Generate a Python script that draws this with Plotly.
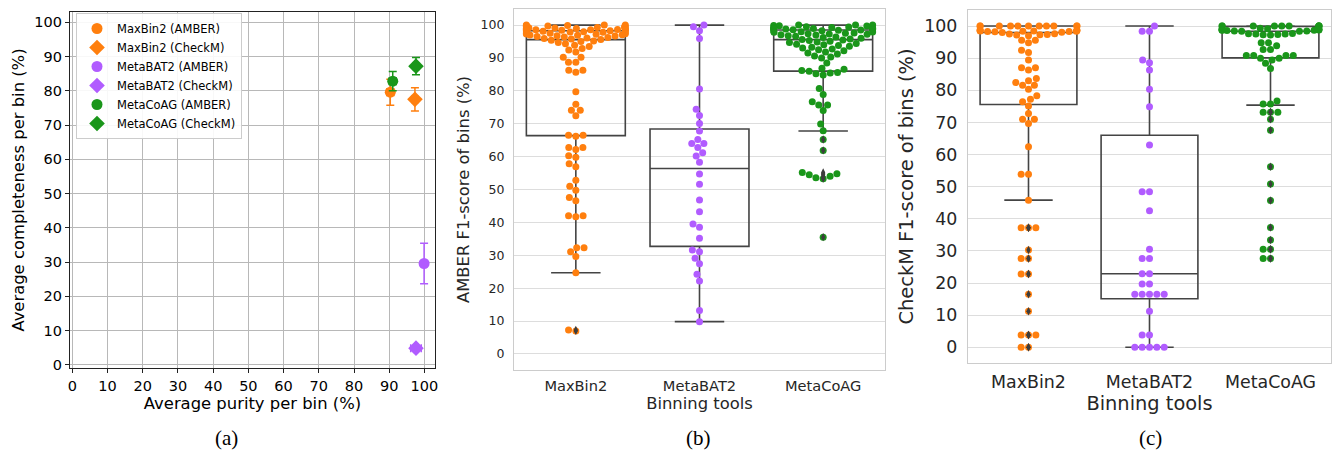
import numpy as np
import plotly.graph_objects as go

# ---------------- DATA ----------------
tools = ["MaxBin2", "MetaBAT2", "MetaCoAG"]
colors = ["#ff7f0e", "#b15cff", "#1a961a"]

# Panel (a): average purity / completeness with standard error
purity_amber = [90.3, 99.9, 91.0]
purity_amber_err = [1.0, 0.3, 1.0]
compl_amber = [79.6, 29.6, 82.8]
compl_amber_err = [3.8, 5.9, 2.8]
purity_checkm = [97.3, 97.6, 97.6]
purity_checkm_err = [0.8, 1.5, 0.8]
compl_checkm = [77.5, 4.9, 87.2]
compl_checkm_err = [3.4, 0.6, 2.55]

# Panel (b): AMBER F1-score per bin
amber_maxbin2 = [100, 100, 100, 99.9, 99.8, 99.7, 99.6, 99.5, 99.4, 99.3, 99.2, 99.1, 99.0,
                 98.9, 98.9, 98.8, 98.8, 98.7, 98.6, 98.6, 98.5, 98.5, 98.4, 98.4, 98.3,
                 98.2, 98.1, 98.0, 97.9, 97.8, 97.7, 97.6, 97.5, 97.4, 97.3, 97.2, 97.1,
                 97.0, 96.9, 96.8, 96.7, 96.5, 96.4, 96.2, 96.1, 95.9, 95.8, 95.6,
                 95.4, 95.2, 95.0, 94.7, 94.3, 93.9, 93.5, 92.9, 92.4, 91.8,
                 90.2, 90.2, 88.7, 88.7, 86.3, 86.3, 85.7, 79.7, 75.9, 74.1, 74.1, 72.4,
                 66.5, 66.5, 66.2, 62.8, 62.8, 62.2, 60.3, 59.8, 57.8, 56.9, 52.8, 51.0,
                 49.8, 47.6, 46.6, 42.0, 42.0, 41.7, 32.3, 32.3, 31.1, 29.6, 24.7, 7.3, 7.0]
amber_metabat2 = [100, 99.5, 98.3, 95.9, 80.6, 74.4, 72.5, 70.1, 67.8, 65.2, 64.0, 64.0,
                  62.8, 61.2, 60.2, 58.3, 54.7, 51.6, 46.8, 43.2, 39.5, 38.5, 35.2, 31.6,
                  31.1, 29.1, 27.4, 24.2, 22.2, 13.2, 9.8]
amber_metacoag = [100, 100, 100, 99.9, 99.8, 99.7,
                  99.5, 99.4, 99.3, 99.2, 99.1, 99.0, 98.9, 98.9, 98.8, 98.8, 98.7, 98.6,
                  98.5, 98.4, 98.3, 98.2,
                  98.0, 97.9, 97.8, 97.6, 97.5, 97.4, 97.3, 97.2, 97.1, 97.0, 96.8, 96.6,
                  96.4, 96.2,
                  96.0, 95.8, 95.6, 95.5, 95.3, 95.1, 94.9, 94.7,
                  94.4, 94.2, 94.0, 93.8, 93.6, 93.3,
                  93.0, 92.7, 92.5, 92.2, 91.8, 91.5, 91.2, 90.6, 90.3, 90.0,
                  88.5, 86.9, 86.6, 86.2, 86.0, 85.6, 85.4, 85.2, 84.8, 80.7, 78.9, 76.7,
                  75.7, 75.7, 74.0, 69.9, 67.9, 65.2, 61.9, 55.2, 54.8, 54.5, 54.0, 53.6,
                  53.3, 35.5]
# box statistics (q1, median, q3, lower whisker, upper whisker) per tool
amber_q1 = [66.4, 32.7, 86.0]
amber_median = [95.6, 56.4, 95.6]
amber_q3 = [98.3, 68.4, 98.5]
amber_low = [24.7, 9.8, 67.8]
amber_high = [100, 100, 100]

# Panel (c): CheckM F1-score per bin
checkm_maxbin2 = [100] * 11 + [98.8, 98.7, 98.6, 98.6, 98.5, 98.5, 98.4, 98.4, 98.3, 98.3,
                               98.2, 98.1, 98.0,
                               97.6, 97.5, 97.4, 97.3, 97.2, 97.0,
                               95.6, 95.6, 94.8, 92.5, 91.8, 89.4, 87.0, 87.0, 86.3, 83.7,
                               83.0, 82.4, 81.6, 81.6, 80.3, 78.3, 77.2, 76.4, 75.1, 72.8,
                               71.0, 71.0, 69.7, 62.4, 53.9, 53.9, 45.8, 37.2, 37.2, 37.2,
                               30.3, 27.6, 27.6, 22.8, 22.8, 16.5, 11.2, 3.8, 3.8, 3.8,
                               0.0, 0.0]
checkm_metabat2 = [100, 98.4, 98.4, 89.4, 88.6, 86.3, 80.3, 74.9, 63.0, 48.4, 48.4, 42.5,
                   30.5, 27.6, 27.6, 22.9, 22.9, 19.7, 19.7, 16.5, 16.5, 16.5, 16.5, 16.5,
                   11.2, 3.8, 3.8, 0.0, 0.0, 0.0, 0.0, 0.0]
checkm_metacoag = [100] * 10 + [99.3, 99.2, 99.1, 99.0, 98.9, 98.9, 98.8, 98.8, 98.7, 98.7,
                                98.6, 98.5, 98.5, 98.4, 98.4,
                                97.7, 97.6, 97.5, 97.5, 97.4, 97.3, 97.2,
                                94.8, 94.8, 93.9, 92.7, 92.7, 90.8, 90.8, 90.8, 90.8,
                                90.0, 90.0, 89.4, 88.4, 86.8, 76.7, 75.7, 75.7, 73.2,
                                73.2, 73.2, 71.0, 67.6, 56.2, 50.8, 45.7, 37.3, 33.4,
                                30.5, 30.5, 27.6, 27.6]
checkm_q1 = [75.6, 15.1, 90.1]
checkm_median = [98.0, 22.9, 98.4]
checkm_q3 = [100, 66.0, 99.9]
checkm_low = [45.8, 0.0, 75.4]
checkm_high = [100, 100, 100]

# ---------------- LAYOUT GEOMETRY (pixels) ----------------
W, H = 1332, 456
PA = (70, 435, 12, 368)    # x0, x1, ytop, ybottom
PB = (514, 885, 9, 370)
PC = (968, 1331, 10, 363)
RA_X, RA_Y = [-0.65, 103], [-0.9, 103]
RB_Y = [-4.9, 104.9]
RC_Y = [-4.9, 105.0]
FONT = "DejaVu Sans"
DOT = 7.0


def xdom(p):
    return [p[0] / W, p[1] / W]


def ydom(p):
    return [1 - p[3] / H, 1 - p[2] / H]


def swarm(vals, ypx, d, gutter):
    vals = np.asarray(vals, float)
    order = np.argsort(vals, kind="stable")
    ys = vals * ypx
    px, py = [], []
    out = np.zeros(len(vals))
    for i in order:
        y = ys[i]
        ax = np.array(px)
        ay = np.array(py)
        if len(ax):
            m = np.abs(ay - y) < d
            nx, ny = ax[m], ay[m]
        else:
            nx, ny = np.array([]), np.array([])
        cands = [0.0]
        left = True
        for xj, yj in zip(nx, ny):
            dx = np.sqrt(max(d * d - (y - yj) ** 2, 0)) * 1.05
            pair = [xj - dx, xj + dx] if left else [xj + dx, xj - dx]
            cands.extend(pair)
            left = not left
        cands = np.array(cands)
        cands = cands[np.argsort(np.abs(cands), kind="stable")]
        chosen = cands[-1]
        for c in cands:
            if len(nx) == 0 or np.all((nx - c) ** 2 + (ny - y) ** 2 >= d * d - 1e-6):
                chosen = c
                break
        px.append(chosen)
        py.append(y)
        out[i] = chosen
    return np.clip(out, -gutter, gutter)


fig = go.Figure()

# ---------- panel (a) ----------
for i, t in enumerate(tools):
    fig.add_trace(go.Scatter(
        x=[purity_amber[i]], y=[compl_amber[i]], mode="markers",
        name=f"{t} (AMBER)", xaxis="x", yaxis="y",
        marker=dict(symbol="circle", size=11, color=colors[i]),
        error_x=dict(type="data", array=[purity_amber_err[i]], color=colors[i], thickness=1.5, width=4),
        error_y=dict(type="data", array=[compl_amber_err[i]], color=colors[i], thickness=1.5, width=4),
    ))
    fig.add_trace(go.Scatter(
        x=[purity_checkm[i]], y=[compl_checkm[i]], mode="markers",
        name=f"{t} (CheckM)", xaxis="x", yaxis="y",
        marker=dict(symbol="diamond", size=12, color=colors[i]),
        error_x=dict(type="data", array=[purity_checkm_err[i]], color=colors[i], thickness=1.5, width=4),
        error_y=dict(type="data", array=[compl_checkm_err[i]], color=colors[i], thickness=1.5, width=4),
    ))


def add_box_swarm(groups, q1, med, q3, low, high, xa, ya, panel, yrange):
    xpx = (panel[1] - panel[0]) / 3.0
    ypx = (panel[3] - panel[2]) / (yrange[1] - yrange[0])
    for i, vals in enumerate(groups):
        fig.add_trace(go.Box(
            x=[i], q1=[q1[i]], median=[med[i]], q3=[q3[i]],
            lowerfence=[low[i]], upperfence=[high[i]],
            width=0.8, whiskerwidth=0.5, boxpoints=False,
            line=dict(color="#444444", width=1.6), fillcolor="rgba(0,0,0,0)",
            xaxis=xa, yaxis=ya, showlegend=False, hoverinfo="skip"))
    for i, vals in enumerate(groups):
        off = swarm(vals, ypx, DOT, 0.4 * xpx)
        fig.add_trace(go.Scatter(
            x=i + off / xpx, y=vals, mode="markers", xaxis=xa, yaxis=ya,
            marker=dict(size=DOT, color=colors[i], line=dict(width=0)),
            showlegend=False))
    for i, vals in enumerate(groups):
        v = np.asarray(vals, float)
        fl = v[(v < low[i] - 0.05) | (v > high[i] + 0.05)]
        if len(fl):
            fig.add_trace(go.Scatter(
                x=[i] * len(fl), y=fl, mode="markers", xaxis=xa, yaxis=ya,
                marker=dict(symbol="diamond-tall", size=6, color="#3d3d3d", line=dict(width=0)),
                showlegend=False))


add_box_swarm([amber_maxbin2, amber_metabat2, amber_metacoag],
              amber_q1, amber_median, amber_q3, amber_low, amber_high, "x2", "y2", PB, RB_Y)
add_box_swarm([checkm_maxbin2, checkm_metabat2, checkm_metacoag],
              checkm_q1, checkm_median, checkm_q3, checkm_low, checkm_high, "x3", "y3", PC, RC_Y)

ticks10 = list(range(0, 101, 10))
sea = dict(showline=True, mirror=True, linecolor="#cccccc", linewidth=1.3,
           zeroline=False, automargin=False)
mpl = dict(showgrid=True, gridcolor="#b8b8b8", gridwidth=1, zeroline=False, showline=True,
           mirror=True, linecolor="#222222", linewidth=1.3, ticks="outside", ticklen=4,
           tickcolor="#222222", tickfont=dict(size=14.5), automargin=False)

fig.update_layout(
    width=W, height=H, margin=dict(l=0, r=0, t=0, b=0, autoexpand=False),
    paper_bgcolor="white", plot_bgcolor="white",
    font=dict(family=FONT, color="black"),
    showlegend=True,
    legend=dict(x=76 / W, y=1 - 13 / H, xanchor="left", yanchor="top",
                bgcolor="rgba(255,255,255,0.9)", bordercolor="#cccccc", borderwidth=1,
                font=dict(size=11.5, family=FONT), tracegroupgap=0),
    xaxis=dict(domain=xdom(PA), range=RA_X, tickvals=ticks10,
               title=dict(text="Average purity per bin (%)", font=dict(size=16.4), standoff=0),
               anchor="y", **mpl),
    yaxis=dict(domain=ydom(PA), range=RA_Y, tickvals=ticks10,
               title=dict(text="Average completeness per bin (%)", font=dict(size=16.4), standoff=5),
               anchor="x", **mpl),
    xaxis2=dict(domain=xdom(PB), range=[-0.5, 2.5], tickvals=[0, 1, 2], ticktext=tools,
                showgrid=False, ticks="outside", ticklen=2, tickcolor="rgba(0,0,0,0)",
                tickfont=dict(size=14.6, color="#262626"),
                title=dict(text="Binning tools", font=dict(size=16.4, color="#262626"), standoff=0),
                anchor="y2", **sea),
    yaxis2=dict(domain=ydom(PB), range=RB_Y, tickvals=ticks10, showgrid=True,
                gridcolor="#dddddd", gridwidth=1.2, ticks="outside", ticklen=6,
                tickcolor="rgba(0,0,0,0)", tickfont=dict(size=12.5, color="#262626"),
                title=dict(text="AMBER F1-score of bins (%)", font=dict(size=16.4, color="#262626"), standoff=6),
                anchor="x2", **sea),
    xaxis3=dict(domain=xdom(PC), range=[-0.5, 2.5], tickvals=[0, 1, 2], ticktext=tools,
                showgrid=False, ticks="outside", ticklen=3, tickcolor="rgba(0,0,0,0)",
                tickfont=dict(size=17.4, color="#262626"),
                title=dict(text="Binning tools", font=dict(size=19.4, color="#262626"), standoff=0),
                anchor="y3", **sea),
    yaxis3=dict(domain=ydom(PC), range=RC_Y, tickvals=ticks10, showgrid=True,
                gridcolor="#dddddd", gridwidth=1.2, ticks="outside", ticklen=6,
                tickcolor="rgba(0,0,0,0)", tickfont=dict(size=17.4, color="#262626"),
                title=dict(text="CheckM F1-score of bins (%)", font=dict(size=19.4, color="#262626"), standoff=5),
                anchor="x3", **sea),
)

for lbl, xc in [("(a)", 226), ("(b)", 698), ("(c)", 1150)]:
    fig.add_annotation(text=lbl, x=xc / W, y=1 - 438 / H, xref="paper", yref="paper",
                       showarrow=False, xanchor="center", yanchor="middle",
                       font=dict(family="Liberation Serif", size=21, color="black"))

fig.write_html("out.html", config={"displayModeBar": False},
               post_script="document.body.style.margin='0';document.body.style.overflow='hidden';")
